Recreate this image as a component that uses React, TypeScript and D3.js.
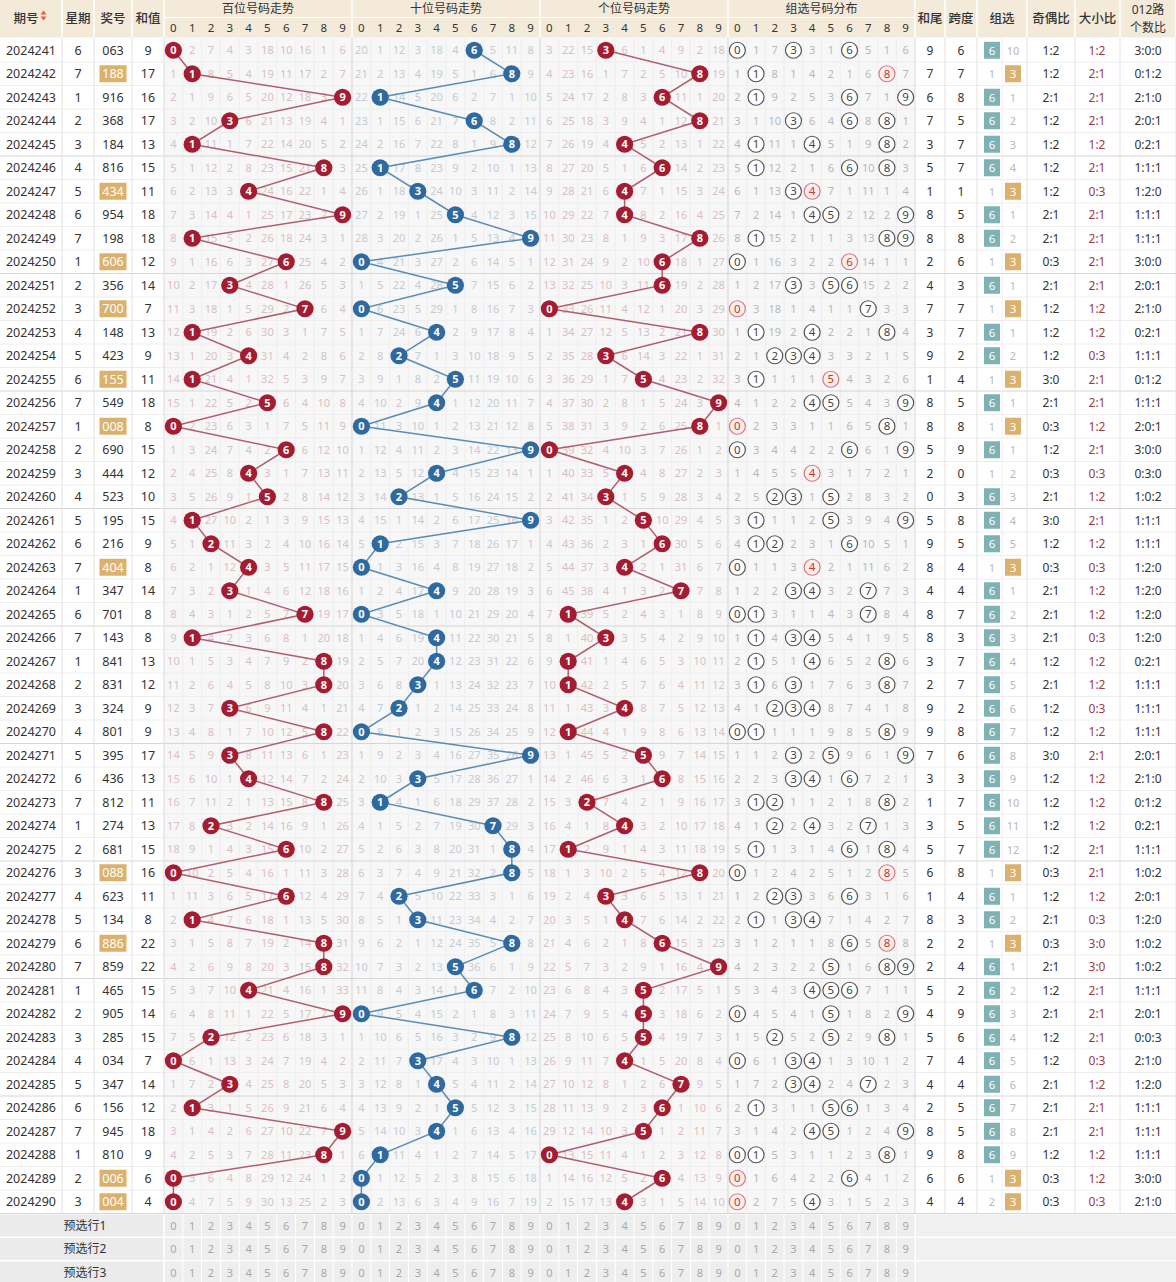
import React from 'react';
import * as d3 from 'd3';

// ---------------- DATA ----------------
const periods = ['2024241','2024242','2024243','2024244','2024245','2024246','2024247','2024248','2024249','2024250',
  '2024251','2024252','2024253','2024254','2024255','2024256','2024257','2024258','2024259','2024260',
  '2024261','2024262','2024263','2024264','2024265','2024266','2024267','2024268','2024269','2024270',
  '2024271','2024272','2024273','2024274','2024275','2024276','2024277','2024278','2024279','2024280',
  '2024281','2024282','2024283','2024284','2024285','2024286','2024287','2024288','2024289','2024290'];
const weekdays = [6,7,1,2,3,4,5,6,7,1, 2,3,4,5,6,7,1,2,3,4, 5,6,7,1,6,7,1,2,3,4, 5,6,7,1,2,3,4,5,6,7, 1,2,3,4,5,6,7,1,2,3];
const draws = ['063','188','916','368','184','816','434','954','198','606',
  '356','700','148','423','155','549','008','690','444','523',
  '195','216','404','347','701','143','841','831','324','801',
  '395','436','812','274','681','088','623','134','886','859',
  '465','905','285','034','347','156','945','810','006','004'];
// omission values shown in the first row
const seedHundreds = [0,2,7,4,3,18,10,16,1,6];
const seedTens = [20,1,12,3,18,4,0,5,11,8];
const seedUnits = [3,22,15,0,6,1,4,9,2,18];
const seedGroup = [0,1,7,0,3,1,0,5,1,6];
const seedZuxuan = [0,10]; // 组六, 组三
const digitLabels = ['0','1','2','3','4','5','6','7','8','9'];
const preRows = ['预选行1','预选行2','预选行3'];

// ---------------- DERIVED ----------------
const digitsOf = (s: string) => s.split('').map(Number);
const typeOf = (s: string) => {
  const u = new Set(s.split('')).size;
  return u === 3 ? 'six' : u === 2 ? 'three' : 'leopard';
};
function omissions(seed: number[], hit: (r: number, d: number) => boolean) {
  const out: number[][] = [];
  for (let r = 0; r < draws.length; r++) {
    if (r === 0) { out.push(seed.slice()); continue; }
    out.push(seed.map((_, d) => (hit(r, d) ? 0 : out[r - 1][d] + 1)));
  }
  return out;
}
const omH = omissions(seedHundreds, (r, d) => digitsOf(draws[r])[0] === d);
const omT = omissions(seedTens, (r, d) => digitsOf(draws[r])[1] === d);
const omU = omissions(seedUnits, (r, d) => digitsOf(draws[r])[2] === d);
const omG = omissions(seedGroup, (r, d) => digitsOf(draws[r]).includes(d));
const omZ = omissions(seedZuxuan, (r, k) => typeOf(draws[r]) === (k === 0 ? 'six' : 'three'));

// ---------------- LAYOUT ----------------
const W = 1176, H = 1282;
const headTop = 0, headMid = 17.5, headBot = 37.5;
const rowH = 23.5;
const y = d3.scaleBand<string>().domain(periods).range([headBot + 1, headBot + 1 + periods.length * rowH]);
const yEnd = headBot + 1 + periods.length * rowH;
const yc = (i: number) => (y(periods[i]) as number) + y.bandwidth() / 2;

const sections = [
  { key: 'h', title: '百位号码走势', x0: 164, x1: 352 },
  { key: 't', title: '十位号码走势', x0: 352, x1: 540 },
  { key: 'u', title: '个位号码走势', x0: 540, x1: 728 },
  { key: 'g', title: '组选号码分布', x0: 728, x1: 915 },
];
const xs = sections.map(s => d3.scaleBand<string>().domain(digitLabels).range([s.x0, s.x1]));
const xc = (si: number, d: number) => (xs[si](String(d)) as number) + xs[si].bandwidth() / 2;

const infoCols = [
  { label: '期号', x0: 0, x1: 62 },
  { label: '星期', x0: 62, x1: 94 },
  { label: '奖号', x0: 94, x1: 132 },
  { label: '和值', x0: 132, x1: 164 },
];
const rightCols = [
  { label: '和尾', x0: 915, x1: 945 },
  { label: '跨度', x0: 945, x1: 977 },
  { label: '组选', x0: 977, x1: 1027 },
  { label: '奇偶比', x0: 1027, x1: 1075 },
  { label: '大小比', x0: 1075, x1: 1120 },
  { label: '012路|个数比', x0: 1120, x1: 1176 },
];

const C = {
  head: '#f3eada', headLine: '#ffffff', text: '#333333',
  trendBg: '#f7f7f7', grid: '#ebebeb', rowLine: '#eeeeee', groupLine: '#d6d6d6',
  redBall: '#a41c31', redLine: '#b0606d', blueBall: '#2e6a9f', blueLine: '#5b8cb6',
  redOmit: '#d8bfc4', blueOmit: '#c3cbd4', grayOmit: '#b8b8b8',
  six: '#7fb2b4', three: '#dbb16d', big: '#9a3a4c',
};
const FONT = '"Noto Sans", "Noto Sans CJK SC", sans-serif';

export default function App() {
  const rows = draws.map((s, i) => {
    const ds = digitsOf(s);
    const sum = d3.sum(ds);
    const odd = ds.filter(d => d % 2 === 1).length;
    const big = ds.filter(d => d >= 5).length;
    const m = [0, 1, 2].map(k => ds.filter(d => d % 3 === k).length);
    return { s, ds, sum, odd, big, m, span: (d3.max(ds) as number) - (d3.min(ds) as number), type: typeOf(s), i };
  });

  const lineGen = d3.line<[number, number]>().x(p => p[0]).y(p => p[1]);
  const ballSecs = [
    { si: 0, pos: 0, om: omH, ball: C.redBall, line: C.redLine, omit: C.redOmit },
    { si: 1, pos: 1, om: omT, ball: C.blueBall, line: C.blueLine, omit: C.blueOmit },
    { si: 2, pos: 2, om: omU, ball: C.redBall, line: C.redLine, omit: C.redOmit },
  ];

  return (
    <svg width={W} height={H} style={{ position: 'absolute', left: 0, top: 0, fontFamily: FONT, background: '#fff' }}>
      {/* trend backgrounds */}
      {sections.map(s => (
        <rect key={'bg' + s.key} x={s.x0} y={headBot} width={s.x1 - s.x0} height={yEnd - headBot} fill={C.trendBg} />
      ))}
      {/* vertical grid in trend */}
      {sections.map((s, si) => digitLabels.map(d => (
        <line key={'vg' + s.key + d} x1={xs[si](d) as number} x2={xs[si](d) as number} y1={headBot} y2={yEnd} stroke={C.grid} strokeWidth={0.8} />
      )))}
      {/* row lines */}
      {periods.map((p, i) => (
        <line key={'rl' + p} x1={0} x2={W} y1={(y(p) as number) + rowH} y2={(y(p) as number) + rowH}
          stroke={(i + 1) % 5 === 0 ? C.groupLine : C.rowLine} strokeWidth={1} />
      ))}
      {/* vertical column lines */}
      {[...infoCols, ...rightCols].map(c => (
        <line key={'vc' + c.x1} x1={c.x1} x2={c.x1} y1={headBot} y2={yEnd} stroke="#e2e2e2" />
      ))}
      {sections.map(s => (
        <line key={'vs' + s.key} x1={s.x1} x2={s.x1} y1={headBot} y2={yEnd} stroke="#d9d9d9" />
      ))}
      <line x1={1002} x2={1002} y1={headBot} y2={yEnd} stroke="#f0f0f0" />

      {/* header */}
      <rect x={0} y={headTop} width={W} height={headBot - headTop} fill={C.head} />
      {[...infoCols, ...rightCols].map(c => {
        const parts = c.label.split('|');
        return (
          <g key={'h' + c.label}>
            <line x1={c.x1} x2={c.x1} y1={0} y2={headBot} stroke={C.headLine} strokeWidth={1.5} />
            {parts.length === 1 ? (
              <text x={(c.x0 + c.x1) / 2 - (c.label === '期号' ? 5 : 0)} y={headBot / 2 + 4.5} textAnchor="middle" fontSize={12.5} fill={C.text} fontWeight={500}>{c.label}</text>
            ) : (
              <>
                <text x={(c.x0 + c.x1) / 2} y={13.5} textAnchor="middle" fontSize={12} fill={C.text}>{parts[0]}</text>
                <text x={(c.x0 + c.x1) / 2} y={31.5} textAnchor="middle" fontSize={12} fill={C.text}>{parts[1]}</text>
              </>
            )}
          </g>
        );
      })}
      {/* sort icon */}
      <path d="M40.5,14.5 L43.5,10.5 L46.5,14.5 Z" fill="#e0643c" />
      <path d="M40.5,16.5 L43.5,20.5 L46.5,16.5 Z" fill="#e0643c" />
      {sections.map((s, si) => (
        <g key={'hs' + s.key}>
          <line x1={s.x1} x2={s.x1} y1={0} y2={headBot} stroke={C.headLine} strokeWidth={1.5} />
          <line x1={s.x0} x2={s.x1} y1={headMid} y2={headMid} stroke={C.headLine} strokeWidth={1} />
          <text x={(s.x0 + s.x1) / 2} y={13} textAnchor="middle" fontSize={12} fill={C.text}>{s.title}</text>
          {digitLabels.map(d => (
            <text key={d} x={xc(si, +d)} y={31.5} textAnchor="middle" fontSize={11.5} fill={C.text}>{d}</text>
          ))}
        </g>
      ))}

      {/* info columns */}
      {rows.map(r => {
        const cy = yc(r.i) + 4.3;
        return (
          <g key={'info' + r.i} fontSize={12.5} fill={C.text}>
            <text x={31} y={cy} textAnchor="middle">{periods[r.i]}</text>
            <text x={78} y={cy} textAnchor="middle">{weekdays[r.i]}</text>
            {r.type === 'three' && (
              <rect x={99.5} y={yc(r.i) - 8.5} width={27} height={17} fill={C.three} />
            )}
            <text x={113} y={cy} textAnchor="middle" fill={r.type === 'three' ? '#fff' : C.text}>{r.s}</text>
            <text x={148} y={cy} textAnchor="middle">{r.sum}</text>
          </g>
        );
      })}

      {/* trend sections with balls */}
      {ballSecs.map(b => {
        const pts: [number, number][] = rows.map(r => [xc(b.si, r.ds[b.pos]), yc(r.i)]);
        return (
          <g key={'sec' + b.si}>
            {rows.map(r => b.om[r.i].map((v, d) => (
              v === 0 ? null :
              <text key={r.i + '-' + d} x={xc(b.si, d)} y={yc(r.i) + 4} textAnchor="middle" fontSize={11} fill={b.omit}>{v}</text>
            )))}
            <path d={lineGen(pts) as string} fill="none" stroke={b.line} strokeWidth={1.5} />
            {rows.map(r => (
              <g key={'ball' + r.i}>
                <circle cx={xc(b.si, r.ds[b.pos])} cy={yc(r.i)} r={8.6} fill={b.ball} />
                <text x={xc(b.si, r.ds[b.pos])} y={yc(r.i) + 4} textAnchor="middle" fontSize={11} fontWeight={700} fill="#fff">{r.ds[b.pos]}</text>
              </g>
            ))}
          </g>
        );
      })}

      {/* group distribution */}
      {rows.map(r => omG[r.i].map((v, d) => {
        const cnt = r.ds.filter(x => x === d).length;
        const cx = xc(3, d), cy = yc(r.i);
        if (cnt === 0) {
          return <text key={'g' + r.i + '-' + d} x={cx} y={cy + 4} textAnchor="middle" fontSize={11} fill={C.grayOmit}>{v}</text>;
        }
        const multi = cnt > 1;
        return (
          <g key={'g' + r.i + '-' + d}>
            <circle cx={cx} cy={cy} r={8} fill={multi ? '#fdeeee' : '#fff'} stroke={multi ? '#d9777f' : '#555'} strokeWidth={1.2} />
            <text x={cx} y={cy + 4} textAnchor="middle" fontSize={11.5} fill={multi ? '#c0392b' : '#444'}>{d}</text>
          </g>
        );
      }))}

      {/* right columns */}
      {rows.map(r => {
        const cy = yc(r.i) + 4.3;
        const z = omZ[r.i];
        return (
          <g key={'rc' + r.i} fontSize={12} fill={C.text}>
            <text x={930} y={cy} textAnchor="middle">{r.sum % 10}</text>
            <text x={961} y={cy} textAnchor="middle">{r.span}</text>
            {z[0] === 0 ? (
              <g>
                <rect x={984} y={yc(r.i) - 8.5} width={16} height={17} fill={C.six} />
                <text x={992} y={cy} textAnchor="middle" fill="#fff" fontSize={11.5}>6</text>
              </g>
            ) : (
              <text x={992} y={cy} textAnchor="middle" fill={C.grayOmit} fontSize={11}>{z[0]}</text>
            )}
            {z[1] === 0 ? (
              <g>
                <rect x={1005} y={yc(r.i) - 8.5} width={16} height={17} fill={C.three} />
                <text x={1013} y={cy} textAnchor="middle" fill="#fff" fontSize={11.5}>3</text>
              </g>
            ) : (
              <text x={1013} y={cy} textAnchor="middle" fill={C.grayOmit} fontSize={11}>{z[1]}</text>
            )}
            <text x={1051} y={cy} textAnchor="middle">{`${r.odd}:${3 - r.odd}`}</text>
            <text x={1097} y={cy} textAnchor="middle" fill={C.big}>{`${r.big}:${3 - r.big}`}</text>
            <text x={1148} y={cy} textAnchor="middle">{r.m.join(':')}</text>
          </g>
        );
      })}

      {/* preselect rows */}
      {preRows.map((p, k) => {
        const y0 = yEnd + 1 + k * rowH;
        return (
          <g key={p}>
            <rect x={0} y={y0} width={163} height={rowH - 1.5} fill="#ebebeb" />
            <text x={85} y={y0 + rowH / 2 + 3.5} textAnchor="middle" fontSize={12} fill={C.text}>{p}</text>
            {sections.map((s, si) => digitLabels.map(d => (
              <g key={s.key + d}>
                <rect x={(xs[si](d) as number) + 0.5} y={y0} width={xs[si].bandwidth() - 1} height={rowH - 1.5} fill="#eeeeee" />
                <text x={xc(si, +d)} y={y0 + rowH / 2 + 3.5} textAnchor="middle" fontSize={11} fill="#a8a8a8">{d}</text>
              </g>
            )))}
            <rect x={916} y={y0} width={W - 916} height={rowH - 1.5} fill="#f0f0f0" />
          </g>
        );
      })}
    </svg>
  );
}
